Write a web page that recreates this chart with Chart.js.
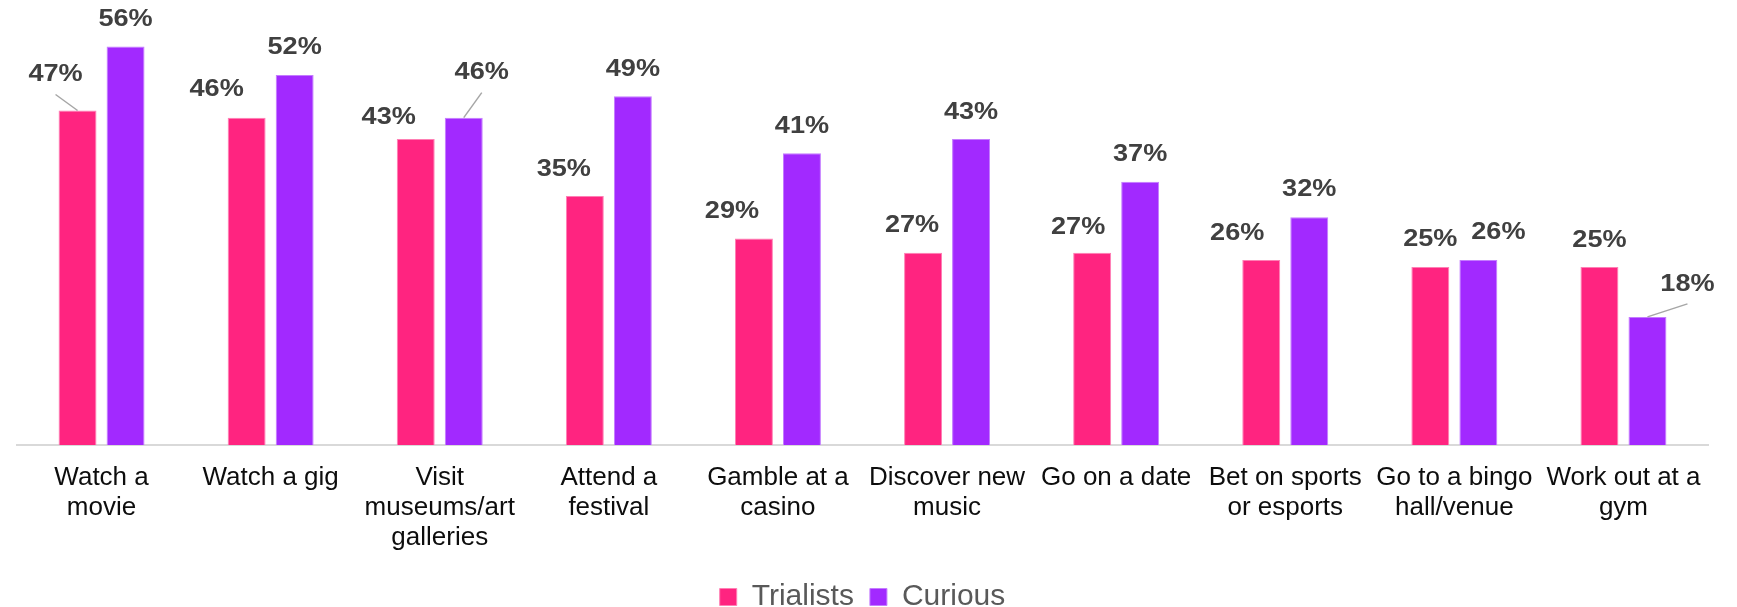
<!DOCTYPE html>
<html>
<head>
<meta charset="utf-8">
<script src="https://cdn.jsdelivr.net/npm/chart.js@4/dist/chart.umd.min.js"></script>
<style>
  html, body { margin: 0; padding: 0; background: #fff; }
  #wrap { width: 1737px; height: 607px; }
</style>
</head>
<body>
<div id="wrap"><canvas id="myChart" width="1737" height="607"></canvas></div>
<script>
// カテゴリ（x軸の見出し、改行ごとに分割）
var categories = [
  ['Watch a', 'movie'],
  ['Watch a gig'],
  ['Visit', 'museums/art', 'galleries'],
  ['Attend a', 'festival'],
  ['Gamble at a', 'casino'],
  ['Discover new', 'music'],
  ['Go on a date'],
  ['Bet on sports', 'or esports'],
  ['Go to a bingo', 'hall/venue'],
  ['Work out at a', 'gym']
];

// 系列の値（%）
var trialists = [47, 46, 43, 35, 29, 27, 27, 26, 25, 25];
var curious = [56, 52, 46, 49, 41, 43, 37, 32, 26, 18];

var seriesNames = ['Trialists', 'Curious'];

// ラベルの位置ずらし（棒の上端中央からの dx, dy）
var labelShift = [
  [[-22, -36], [-30, -28], [-27, -22], [-21, -27], [-22, -27], [-11, -27], [-14, -25], [-24, -27], [0, -28], [0, -27]],
  [[0, -27], [0, -28], [18, -45], [0, -27], [0, -27], [0, -27], [0, -27], [0, -28], [20, -28], [40, -33]]
];
// 引き出し線をつけるラベル
var leaders = [[0], [2, 9]];

// 値ラベルを描くプラグイン
var valueLabels = {
  id: 'valueLabels',
  afterDatasetsDraw: function (chart) {
    var ctx = chart.ctx;
    chart.data.datasets.forEach(function (ds, di) {
      var meta = chart.getDatasetMeta(di);
      meta.data.forEach(function (bar, i) {
        var lx = bar.x + labelShift[di][i][0];
        var ly = bar.y + labelShift[di][i][1];
        if (leaders[di].indexOf(i) >= 0) {
          ctx.save();
          ctx.strokeStyle = '#a6a6a6';
          ctx.lineWidth = 1.5;
          ctx.beginPath();
          ctx.moveTo(lx, ly + 20);
          ctx.lineTo(bar.x, bar.y);
          ctx.stroke();
          ctx.restore();
        }
        ctx.save();
        ctx.translate(lx, ly);
        ctx.scale(1.13, 1);
        ctx.font = 'bold 24px "Liberation Sans", Arial, sans-serif';
        ctx.fillStyle = '#404040';
        ctx.textAlign = 'center';
        ctx.textBaseline = 'middle';
        ctx.fillText(ds.data[i] + '%', 0, 0);
        ctx.restore();
      });
    });
  }
};

var ctx = document.getElementById('myChart');

var myChart = new Chart(ctx, {
  type: 'bar',
  data: {
    labels: categories,
    datasets: [{
      label: seriesNames[0],
      data: trialists,
      backgroundColor: '#ff2480',
      borderColor: '#ff7fb4',
      borderWidth: 1,
      borderSkipped: 'bottom'
    }, {
      label: seriesNames[1],
      data: curious,
      backgroundColor: '#a229ff',
      borderColor: '#c47cff',
      borderWidth: 1,
      borderSkipped: 'bottom'
    }]
  },
  options: {
    responsive: false,
    animation: false,
    categoryPercentage: 0.568,
    barPercentage: 0.79,
    layout: { padding: { top: 18, left: 17, right: 29, bottom: -15 } },
    scales: {
      x: {
        grid: { display: false, drawTicks: false },
        border: { color: '#d9d9d9', width: 2 },
        ticks: {
          color: '#0d0d0d',
          padding: 18,
          maxRotation: 0,
          autoSkip: false,
          font: { family: '"Liberation Sans", Arial, sans-serif', size: 26, lineHeight: 1.15 }
        },
        afterFit: function (scale) { scale.height = 121; }
      },
      y: {
        display: false,
        min: 0,
        max: 60
      }
    },
    plugins: {
      legend: {
        position: 'bottom',
        labels: {
          boxWidth: 17,
          boxHeight: 17,
          padding: 16,
          color: '#595959',
          font: { family: '"Liberation Sans", Arial, sans-serif', size: 30 }
        }
      },
      tooltip: { enabled: false }
    }
  },
  plugins: [valueLabels]
});
</script>
</body>
</html>
